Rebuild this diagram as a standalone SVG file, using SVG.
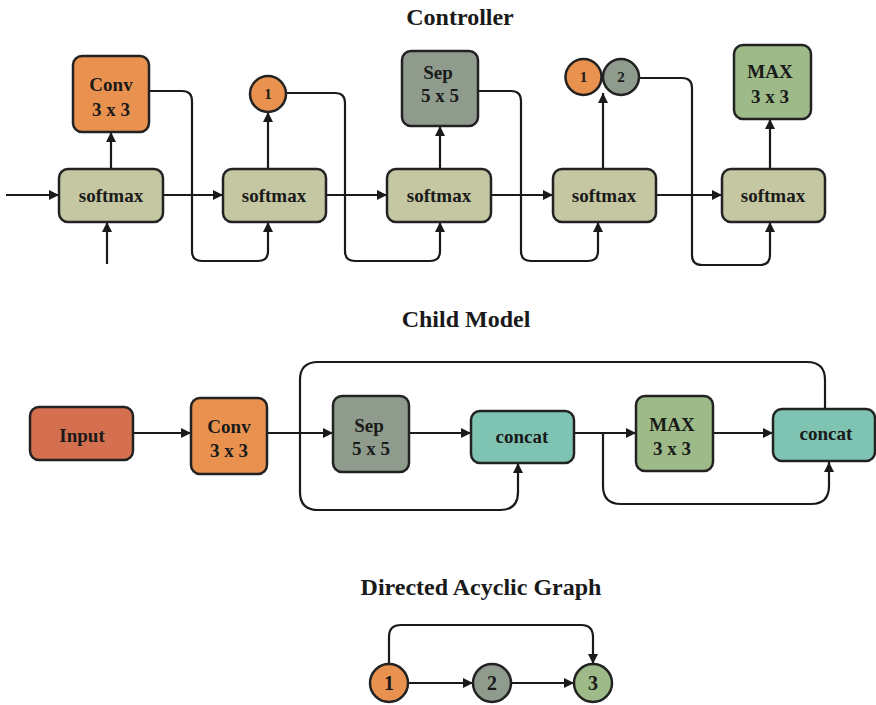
<svg xmlns="http://www.w3.org/2000/svg" width="876" height="705" viewBox="0 0 876 705">
<defs>
<marker id="ah" markerUnits="userSpaceOnUse" markerWidth="10" markerHeight="10" refX="10" refY="5" orient="auto">
<path d="M0,0 L10,5 L0,10 z" fill="#1a1a1a"/>
</marker>
</defs>
<style>
.n{stroke:#222;stroke-width:2.5}
.t{font-family:"Liberation Serif","Times New Roman",serif;font-weight:bold;fill:#1a1a1a;text-anchor:middle}
.nt{font-size:19px}
.ttl{font-size:24px}
.c{fill:none;stroke:#1a1a1a;stroke-width:2.2}
.a{marker-end:url(#ah)}
.sm{fill:#C4C7A1}
.cv{fill:#E9924F}
.sp{fill:#8E9B8D}
.mx{fill:#9DBA88}
.in{fill:#D4704F}
.cc{fill:#7FC4B3}
</style>
<rect width="876" height="705" fill="#fff"/>

<g id="titles">
<text class="t ttl" x="460" y="25">Controller</text>
<text class="t ttl" x="466" y="327">Child Model</text>
<text class="t ttl" x="481" y="595">Directed Acyclic Graph</text>
</g>

<g id="connectors">
<!-- controller -->
<line class="c a" x1="6" y1="195" x2="59" y2="195"/>
<line class="c a" x1="107" y1="264" x2="107" y2="222"/>
<line class="c a" x1="111" y1="169" x2="111" y2="132"/>
<line class="c a" x1="163" y1="195" x2="223" y2="195"/>
<line class="c a" x1="268" y1="169" x2="268" y2="112"/>
<line class="c a" x1="326" y1="195" x2="387" y2="195"/>
<line class="c a" x1="440" y1="169" x2="440" y2="126"/>
<line class="c a" x1="491" y1="195" x2="553" y2="195"/>
<line class="c a" x1="603" y1="169" x2="603" y2="93"/>
<line class="c a" x1="656" y1="195" x2="722" y2="195"/>
<line class="c a" x1="770" y1="169" x2="770" y2="119"/>
<path class="c a" d="M149 91 H182 Q192 91 192 101 V251 Q192 261 202 261 H258 Q268 261 268 251 V222"/>
<path class="c a" d="M286 93 H335 Q345 93 345 103 V251 Q345 261 355 261 H430 Q440 261 440 251 V222"/>
<path class="c a" d="M478 91 H511 Q521 91 521 101 V251 Q521 261 531 261 H588 Q598 261 598 251 V222"/>
<path class="c a" d="M639 78 H682 Q692 78 692 88 V255 Q692 265 702 265 H760 Q770 265 770 255 V222"/>
<!-- child model -->
<line class="c a" x1="133" y1="433" x2="191" y2="433"/>
<line class="c a" x1="267" y1="433" x2="333" y2="433"/>
<line class="c a" x1="409" y1="433" x2="471" y2="433"/>
<line class="c a" x1="574" y1="433" x2="636" y2="433"/>
<line class="c a" x1="713" y1="433" x2="773" y2="433"/>
<path class="c" d="M825 409 V380 Q825 362 807 362 H318 Q300 362 300 380 V492 Q300 510 318 510 H500 Q518 510 518 492 V463" marker-end="url(#ah)"/>
<path class="c a" d="M603 433 V486 Q603 504 621 504 H811 Q829 504 829 486 V462"/>
<!-- DAG -->
<line class="c a" x1="408" y1="683" x2="473" y2="683"/>
<line class="c a" x1="511" y1="683" x2="574" y2="683"/>
<path class="c a" d="M389 664 V637 Q389 625 401 625 H581 Q593 625 593 637 V664"/>
</g>

<g id="ctrl-conv"><rect class="n cv" x="73" y="56" width="76" height="76" rx="9"/><text class="t nt" x="111" y="91">Conv</text><text class="t nt" x="111" y="116">3 x 3</text></g>
<g id="ctrl-softmax1"><rect class="n sm" x="59" y="169" width="104" height="53" rx="9"/><text class="t nt" x="111" y="202">softmax</text></g>
<g id="ctrl-circle1"><circle class="n cv" cx="268" cy="94" r="18"/><text class="t" font-size="15" x="268" y="99">1</text></g>
<g id="ctrl-softmax2"><rect class="n sm" x="223" y="169" width="103" height="53" rx="9"/><text class="t nt" x="274" y="202">softmax</text></g>
<g id="ctrl-sep"><rect class="n sp" x="402" y="51" width="76" height="75" rx="9"/><text class="t nt" x="438" y="79">Sep</text><text class="t nt" x="440" y="102">5 x 5</text></g>
<g id="ctrl-softmax3"><rect class="n sm" x="387" y="169" width="104" height="53" rx="9"/><text class="t nt" x="439" y="202">softmax</text></g>
<g id="ctrl-circle1b"><circle class="n cv" cx="583.5" cy="77" r="18"/><text class="t" font-size="15" x="583.5" y="82">1</text></g>
<g id="ctrl-circle2"><circle class="n sp" cx="621" cy="77" r="18"/><text class="t" font-size="15" x="621" y="82">2</text></g>
<g id="ctrl-softmax4"><rect class="n sm" x="553" y="169" width="103" height="53" rx="9"/><text class="t nt" x="604" y="202">softmax</text></g>
<g id="ctrl-max"><rect class="n mx" x="734" y="45" width="77" height="74" rx="9"/><text class="t nt" x="770" y="78">MAX</text><text class="t nt" x="770" y="103">3 x 3</text></g>
<g id="ctrl-softmax5"><rect class="n sm" x="722" y="169" width="103" height="53" rx="9"/><text class="t nt" x="773" y="202">softmax</text></g>

<g id="child-input"><rect class="n in" x="30" y="407" width="103" height="53" rx="9"/><text class="t nt" x="82" y="442">Input</text></g>
<g id="child-conv"><rect class="n cv" x="191" y="398" width="76" height="76" rx="9"/><text class="t nt" x="229" y="433">Conv</text><text class="t nt" x="229" y="457">3 x 3</text></g>
<g id="child-sep"><rect class="n sp" x="333" y="396" width="76" height="76" rx="9"/><text class="t nt" x="369" y="432">Sep</text><text class="t nt" x="371" y="455">5 x 5</text></g>
<g id="child-concat1"><rect class="n cc" x="471" y="411" width="103" height="52" rx="9"/><text class="t nt" x="522" y="443">concat</text></g>
<g id="child-max"><rect class="n mx" x="636" y="396" width="77" height="75" rx="9"/><text class="t nt" x="672" y="431">MAX</text><text class="t nt" x="672" y="455">3 x 3</text></g>
<g id="child-concat2"><rect class="n cc" x="773" y="409" width="102" height="52" rx="9"/><text class="t nt" x="826" y="440">concat</text></g>

<g id="dag-1"><circle class="n cv" cx="389" cy="683" r="19"/><text class="t" font-size="20" x="389" y="690">1</text></g>
<g id="dag-2"><circle class="n sp" cx="492" cy="683" r="19"/><text class="t" font-size="20" x="492" y="690">2</text></g>
<g id="dag-3"><circle class="n mx" cx="593" cy="683" r="19"/><text class="t" font-size="20" x="593" y="690">3</text></g>
</svg>
